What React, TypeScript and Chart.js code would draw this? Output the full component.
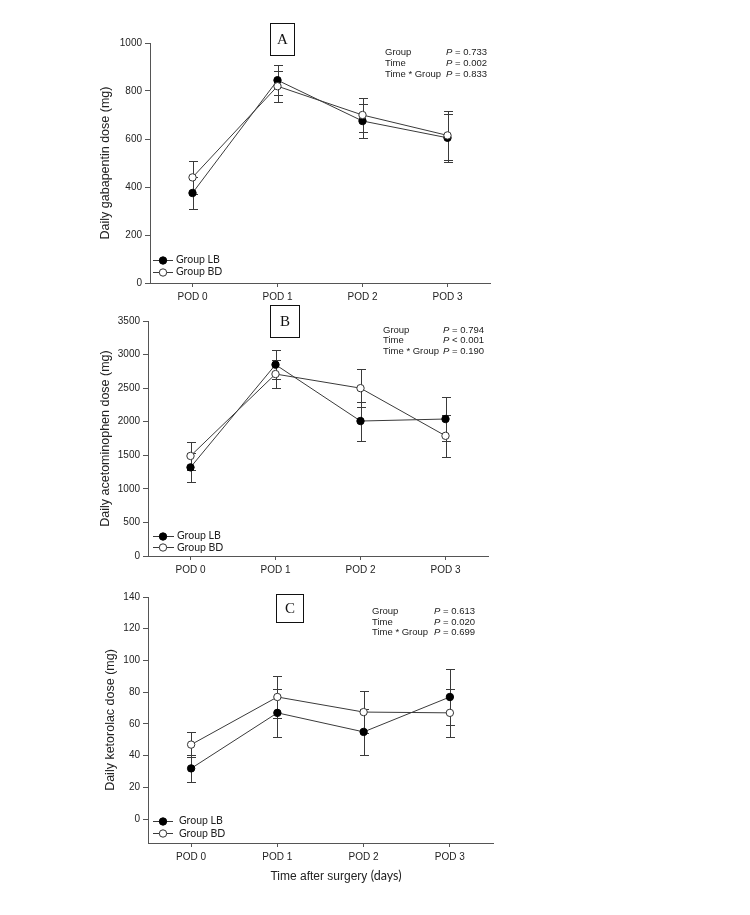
import React, { useEffect, useRef } from 'react';
import { Chart, registerables } from 'chart.js';

Chart.register(...registerables);

// ---------- data ----------
const CATEGORIES = ['POD 0', 'POD 1', 'POD 2', 'POD 3'];
const SERIES_NAMES = ['Group LB', 'Group BD'];

const GABA_LB = [375, 845, 675, 605];
const GABA_LB_ERR = [65, 63, 70, 100];
const GABA_BD = [440, 820, 700, 615];
const GABA_BD_ERR = [68, 65, 72, 103];

const ACET_LB = [1320, 2850, 2010, 2040];
const ACET_LB_ERR = [220, 215, 290, 330];
const ACET_BD = [1490, 2710, 2500, 1790];
const ACET_BD_ERR = [215, 205, 282, 310];

const KETO_LB = [32, 67, 55, 77];
const KETO_LB_ERR = [8.5, 15, 14.5, 17.5];
const KETO_BD = [47, 77, 67.5, 67];
const KETO_BD_ERR = [8, 13, 13, 15];

const STAT_LABELS = ['Group', 'Time', 'Time * Group'];
const GABA_P = ['= 0.733', '= 0.002', '= 0.833'];
const ACET_P = ['= 0.794', '< 0.001', '= 0.190'];
const KETO_P = ['= 0.613', '= 0.020', '= 0.699'];

const GABA_AXIS = { min: 0, max: 1000, step: 200 };
const ACET_AXIS = { min: 0, max: 3500, step: 500 };
const KETO_AXIS = { min: -15, max: 140, step: 20 };

const Y_TITLES = ['Daily gabapentin dose (mg)', 'Daily acetominophen dose (mg)', 'Daily ketorolac dose (mg)'];
const PANEL_LETTERS = ['A', 'B', 'C'];
const X_TITLE_MAIN = 'Time after surgery ';
const X_TITLE_UNIT = '(days)';

// ---------- styles ----------
const SANS = '"Liberation Sans", Arial, Helvetica, sans-serif';
const CAL = 'Lato, "Open Sans", sans-serif';
const SERIF = '"Liberation Serif", "Times New Roman", serif';
const AXIS = '#555555';
const LINE = '#3a3a3a';
const TEXT = '#222222';
const CAP = 4.5;
const MARKER_R = 3.7;
const STAT_FONT = 9.5;

type Panel = {
  lb: number[]; lbErr: number[]; bd: number[]; bdErr: number[];
  axis: { min: number; max: number; step: number };
  pvals: string[]; yTitle: string; letter: string;
  canvasTop: number; canvasH: number;
  padLeft: number; yWidth: number; padRight: number; padTop: number; xH: number;
  titleSize: number;
  box: { x: number; y: number; w: number; h: number };
  stats: { labelX: number; rightX: number; ys: number[] };
  legend: { x0: number; x1: number; mx: number; tx: number; ys: number[] };
  xTitle?: { cx: number; y: number };
};

const PANELS: Panel[] = [
  {
    lb: GABA_LB, lbErr: GABA_LB_ERR, bd: GABA_BD, bdErr: GABA_BD_ERR,
    axis: GABA_AXIS, pvals: GABA_P, yTitle: Y_TITLES[0], letter: PANEL_LETTERS[0],
    canvasTop: 0, canvasH: 303, padLeft: 98, yWidth: 52, padRight: 260, padTop: 43, xH: 20,
    titleSize: 12.5,
    box: { x: 270, y: 23, w: 24, h: 32 },
    stats: { labelX: 385, rightX: 487, ys: [52.7, 63.7, 74.3] },
    legend: { x0: 153, x1: 173, mx: 163, tx: 176, ys: [260, 272] },
  },
  {
    lb: ACET_LB, lbErr: ACET_LB_ERR, bd: ACET_BD, bdErr: ACET_BD_ERR,
    axis: ACET_AXIS, pvals: ACET_P, yTitle: Y_TITLES[1], letter: PANEL_LETTERS[1],
    canvasTop: 303, canvasH: 272, padLeft: 98, yWidth: 50, padRight: 262, padTop: 18, xH: 19,
    titleSize: 12.5,
    box: { x: 270, y: 2, w: 29, h: 32 },
    stats: { labelX: 383, rightX: 484, ys: [27, 37.3, 48] },
    legend: { x0: 153, x1: 174, mx: 163, tx: 177, ys: [233, 244.3] },
  },
  {
    lb: KETO_LB, lbErr: KETO_LB_ERR, bd: KETO_BD, bdErr: KETO_BD_ERR,
    axis: KETO_AXIS, pvals: KETO_P, yTitle: Y_TITLES[2], letter: PANEL_LETTERS[2],
    canvasTop: 575, canvasH: 340, padLeft: 103, yWidth: 45, padRight: 257, padTop: 22, xH: 72,
    titleSize: 12.5,
    box: { x: 276, y: 19, w: 27, h: 28 },
    stats: { labelX: 372, rightX: 475, ys: [36, 47, 57] },
    legend: { x0: 153, x1: 173, mx: 163, tx: 179, ys: [245.7, 258.3] },
    xTitle: { cx: 336, y: 302 },
  },
];

function makeDecor(p: Panel) {
  return {
    id: 'decor',
    beforeDatasetsDraw(chart: any) {
      const ctx = chart.ctx;
      const ys = chart.scales.y;
      chart.data.datasets.forEach((ds: any, i: number) => {
        const meta = chart.getDatasetMeta(i);
        ctx.save();
        ctx.strokeStyle = LINE;
        ctx.lineWidth = 1;
        meta.data.forEach((pt: any, j: number) => {
          const v = ds.data[j];
          const e = ds.errors[j];
          const x = Math.round(pt.x) + 0.5;
          const yt = Math.round(ys.getPixelForValue(v + e)) + 0.5;
          const yb = Math.round(ys.getPixelForValue(v - e)) + 0.5;
          ctx.beginPath();
          ctx.moveTo(x, yt);
          ctx.lineTo(x, yb);
          ctx.moveTo(x - CAP, yt);
          ctx.lineTo(x + CAP, yt);
          ctx.moveTo(x - CAP, yb);
          ctx.lineTo(x + CAP, yb);
          ctx.stroke();
        });
        ctx.restore();
      });
    },
    afterDraw(chart: any) {
      const ctx = chart.ctx;
      ctx.save();
      // panel letter box
      const b = p.box;
      ctx.fillStyle = '#ffffff';
      ctx.fillRect(b.x, b.y, b.w, b.h);
      ctx.strokeStyle = '#111111';
      ctx.lineWidth = 1;
      ctx.strokeRect(b.x + 0.5, b.y + 0.5, b.w, b.h);
      ctx.fillStyle = '#111111';
      ctx.font = `15px ${SERIF}`;
      ctx.textAlign = 'center';
      ctx.textBaseline = 'middle';
      ctx.fillText(p.letter, b.x + b.w / 2 + 0.5, b.y + b.h / 2 + 1);

      // statistics
      const s = p.stats;
      ctx.fillStyle = TEXT;
      ctx.textBaseline = 'middle';
      STAT_LABELS.forEach((lab, i) => {
        const y = s.ys[i];
        ctx.font = `${STAT_FONT}px ${SANS}`;
        ctx.textAlign = 'left';
        ctx.fillText(lab, s.labelX, y);
        const val = ' ' + p.pvals[i];
        ctx.textAlign = 'right';
        ctx.fillText(val, s.rightX, y);
        const w = ctx.measureText(val).width;
        ctx.font = `italic ${STAT_FONT}px ${SANS}`;
        ctx.fillText('P', s.rightX - w, y);
      });

      // legend
      const L = p.legend;
      chart.data.datasets.forEach((ds: any, i: number) => {
        const y = L.ys[i];
        ctx.strokeStyle = ds.borderColor;
        ctx.lineWidth = 1;
        ctx.beginPath();
        ctx.moveTo(L.x0, Math.round(y) + 0.5);
        ctx.lineTo(L.x1, Math.round(y) + 0.5);
        ctx.stroke();
        ctx.beginPath();
        ctx.arc(L.mx, Math.round(y) + 0.5, ds.pointRadius, 0, Math.PI * 2);
        ctx.fillStyle = ds.pointBackgroundColor;
        ctx.fill();
        ctx.strokeStyle = ds.pointBorderColor;
        ctx.stroke();
        ctx.fillStyle = TEXT;
        ctx.font = `10.5px ${CAL}`;
        ctx.textAlign = 'left';
        ctx.textBaseline = 'middle';
        ctx.fillText(ds.label, L.tx, y);
      });

      // x-axis title (bottom panel)
      if (p.xTitle) {
        const f1 = `12px ${SANS}`;
        const f2 = `12.5px ${CAL}`;
        ctx.font = f1;
        const w1 = ctx.measureText(X_TITLE_MAIN).width;
        ctx.font = f2;
        const w2 = ctx.measureText(X_TITLE_UNIT).width;
        const x0 = p.xTitle.cx - (w1 + w2) / 2;
        ctx.textAlign = 'left';
        ctx.textBaseline = 'middle';
        ctx.fillStyle = TEXT;
        ctx.font = f1;
        ctx.fillText(X_TITLE_MAIN, x0, p.xTitle.y);
        ctx.font = f2;
        ctx.fillText(X_TITLE_UNIT, x0 + w1, p.xTitle.y - 1);
      }
      ctx.restore();
    },
  };
}

function buildConfig(p: Panel): any {
  return {
    type: 'line',
    data: {
      labels: CATEGORIES,
      datasets: [
        {
          label: SERIES_NAMES[0], data: p.lb, errors: p.lbErr,
          borderColor: LINE, borderWidth: 1, tension: 0,
          pointRadius: MARKER_R, pointBorderWidth: 1,
          pointBackgroundColor: '#000000', pointBorderColor: '#000000',
          order: 1,
        },
        {
          label: SERIES_NAMES[1], data: p.bd, errors: p.bdErr,
          borderColor: LINE, borderWidth: 1, tension: 0,
          pointRadius: MARKER_R, pointBorderWidth: 1,
          pointBackgroundColor: '#ffffff', pointBorderColor: '#333333',
          order: 0,
        },
      ],
    },
    options: {
      animation: false,
      responsive: false,
      maintainAspectRatio: false,
      devicePixelRatio: 1,
      events: [],
      layout: { padding: { left: p.padLeft, right: p.padRight, top: p.padTop, bottom: 0 } },
      plugins: { legend: { display: false }, tooltip: { enabled: false }, title: { display: false } },
      scales: {
        x: {
          type: 'category',
          offset: true,
          grid: { display: true, drawOnChartArea: false, drawTicks: true, tickLength: 4, color: AXIS, offset: false },
          border: { display: true, color: AXIS, width: 1 },
          ticks: { font: { family: SANS, size: 10 }, color: TEXT, padding: 4, maxRotation: 0, autoSkip: false },
          afterFit: (s: any) => { s.height = p.xH; },
        },
        y: {
          type: 'linear',
          min: p.axis.min,
          max: p.axis.max,
          ticks: {
            stepSize: p.axis.step, includeBounds: false,
            font: { family: SANS, size: 10 }, color: TEXT, padding: 3,
            callback: (v: any) => String(v),
          },
          grid: { display: true, drawOnChartArea: false, drawTicks: true, tickLength: 5, color: AXIS },
          border: { display: true, color: AXIS, width: 1 },
          title: { display: true, text: p.yTitle, color: TEXT, font: { family: SANS, size: p.titleSize }, padding: 0 },
          afterFit: (s: any) => { s.width = p.yWidth; },
        },
      },
    },
    plugins: [makeDecor(p)],
  };
}

function PanelChart({ p }: { p: Panel }) {
  const ref = useRef<HTMLCanvasElement>(null);
  useEffect(() => {
    const chart = new Chart(ref.current as HTMLCanvasElement, buildConfig(p));
    return () => chart.destroy();
  }, [p]);
  return (
    <canvas
      ref={ref}
      width={750}
      height={p.canvasH}
      style={{ position: 'absolute', left: 0, top: p.canvasTop, width: 750, height: p.canvasH, display: 'block' }}
    />
  );
}

export default function App() {
  return (
    <div style={{ position: 'fixed', left: 0, top: 0, width: 750, height: 915, background: '#ffffff', overflow: 'hidden' }}>
      {PANELS.map((p, i) => (
        <PanelChart key={i} p={p} />
      ))}
    </div>
  );
}
